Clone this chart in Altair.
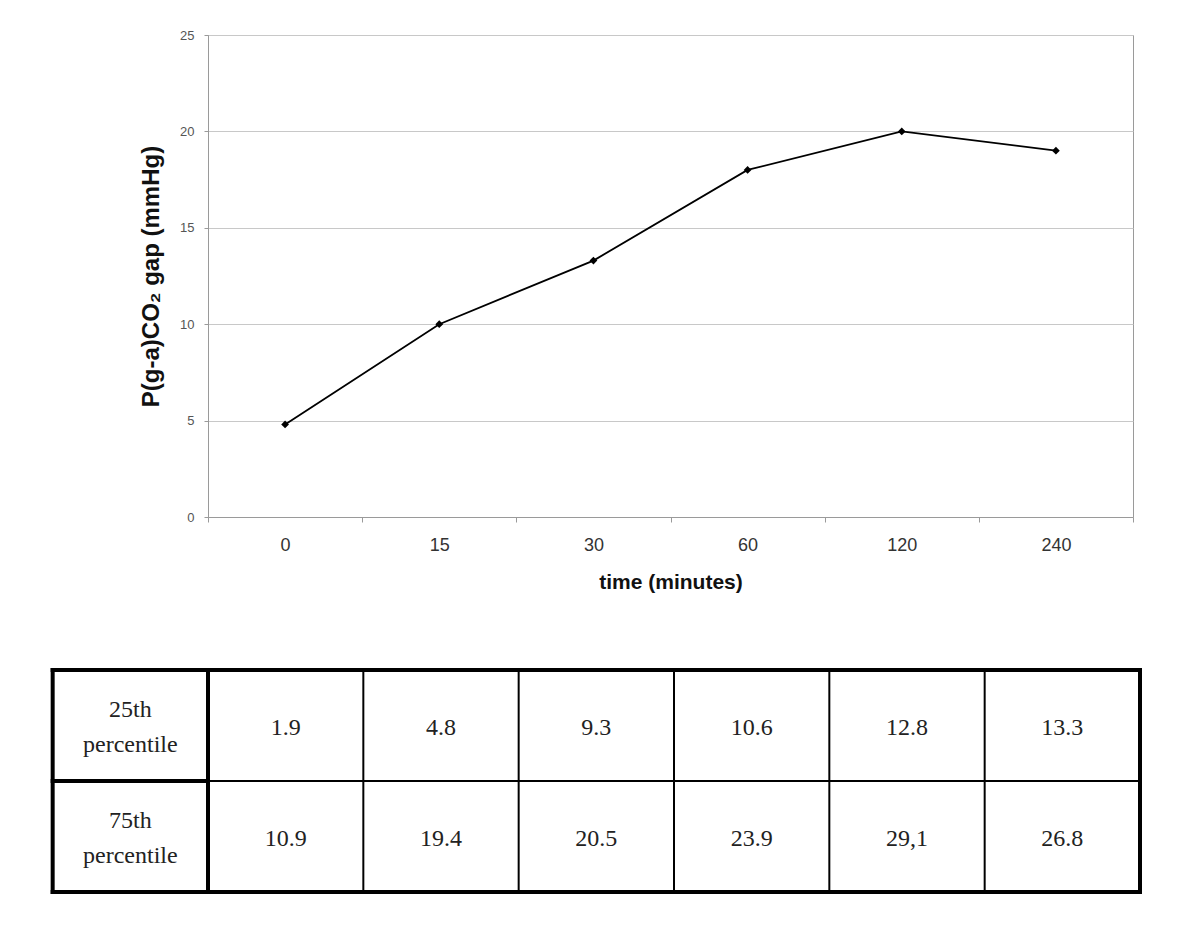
import altair as alt
import pandas as pd

times = ["0", "15", "30", "60", "120", "240"]
gap = [4.8, 10.0, 13.3, 18.0, 20.0, 19.0]
p25_labels = ["1.9", "4.8", "9.3", "10.6", "12.8", "13.3"]
p75_labels = ["10.9", "19.4", "20.5", "23.9", "29,1", "26.8"]
row_labels = ["25th\npercentile", "75th\npercentile"]

SANS = "Liberation Sans"
SERIF = "Liberation Serif"

df = pd.DataFrame({"time": times, "gap": gap})

main = alt.Chart(df).mark_line(
    color="black", strokeWidth=1.8,
    point=alt.OverlayMarkDef(shape="diamond", filled=True, size=60, color="black"),
).encode(
    x=alt.X("time:N", sort=times, bandPosition=0.5,
            scale=alt.Scale(type="band", paddingInner=0, paddingOuter=0),
            axis=alt.Axis(title="time (minutes)", labelAngle=0, tickBand="extent",
                          grid=False, domainColor="#9a9a9a", tickColor="#9a9a9a",
                          tickSize=5, labelPadding=14, titlePadding=17,
                          labelFont=SANS, labelFontSize=18, labelColor="#333",
                          titleFont=SANS, titleFontSize=21, titleFontWeight="bold",
                          titleColor="#111")),
    y=alt.Y("gap:Q", scale=alt.Scale(domain=[0, 25]),
            axis=alt.Axis(title="P(g-a)CO₂ gap (mmHg)", values=[0, 5, 10, 15, 20, 25],
                          gridColor="#c8c8c8", domainColor="#9a9a9a", tickColor="#9a9a9a",
                          tickSize=4, labelPadding=10, titlePadding=16,
                          labelFont=SANS, labelFontSize=13, labelColor="#555",
                          titleFont=SANS, titleFontSize=24, titleFontWeight="bold",
                          titleColor="#111")),
).properties(width=925, height=482, view=alt.ViewBackground(stroke="#9a9a9a"))

# table
cols = [-1, 0, 1, 2, 3, 4, 5, 6]
rules = []
for c in cols:
    w = 4 if c in (-1, 0, 6) else 2
    rules.append({"x": c, "x2": c, "y": 0, "y2": 2, "w": w})
rules.append({"x": -1, "x2": 6, "y": 2, "y2": 2, "w": 4})
rules.append({"x": -1, "x2": 6, "y": 0, "y2": 0, "w": 4})
rules.append({"x": -1, "x2": 0, "y": 1, "y2": 1, "w": 4})
rules.append({"x": 0, "x2": 6, "y": 1, "y2": 1, "w": 2})
rules_df = pd.DataFrame(rules)

value_cells = []
label_cells = []
for r, (lab, vals) in enumerate(zip(row_labels, [p25_labels, p75_labels])):
    yc = 1.5 - r
    label_cells.append({"x": -0.5, "y": yc, "t": lab})
    for i, v in enumerate(vals):
        value_cells.append({"x": i + 0.5, "y": yc, "t": v})
values_df = pd.DataFrame(value_cells)
labels_df = pd.DataFrame(label_cells)

xs = alt.Scale(domain=[0, 6], nice=False, zero=False)
ys = alt.Scale(domain=[0, 2], nice=False, zero=False)

tbl_rules = alt.Chart(rules_df).mark_rule(color="black", strokeCap="square").encode(
    x=alt.X("x:Q", scale=xs, axis=None), x2="x2:Q",
    y=alt.Y("y:Q", scale=ys, axis=None), y2="y2:Q",
    strokeWidth=alt.StrokeWidth("w:Q", scale=None, legend=None),
)
tbl_values = alt.Chart(values_df).mark_text(
    font=SERIF, fontSize=24, color="#222", baseline="middle", dy=2
).encode(
    x=alt.X("x:Q", scale=xs, axis=None),
    y=alt.Y("y:Q", scale=ys, axis=None),
    text="t:N",
)
tbl_labels = alt.Chart(labels_df).mark_text(
    font=SERIF, fontSize=24, color="#222", lineBreak="\n", lineHeight=35,
    baseline="middle", dy=-16
).encode(
    x=alt.X("x:Q", scale=xs, axis=None),
    y=alt.Y("y:Q", scale=ys, axis=None),
    text="t:N",
)
table = alt.layer(tbl_rules, tbl_values, tbl_labels).properties(width=932, height=222)

chart = alt.vconcat(main, table, spacing=73).properties(
    padding={"left": 41, "top": 20, "right": 5, "bottom": 5}
).configure_view(stroke=None).configure(background="white")

chart.save("out.html", embed_options={"renderer": "svg", "actions": False})
